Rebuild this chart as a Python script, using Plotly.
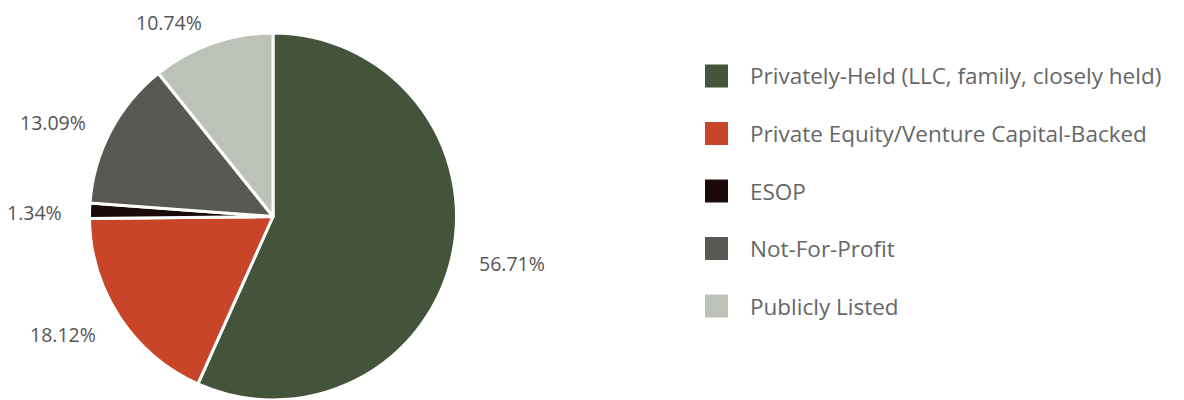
import math
import plotly.graph_objects as go

# Ownership structure breakdown
categories = [
    "Privately-Held (LLC, family, closely held)",
    "Private Equity/Venture Capital-Backed",
    "ESOP",
    "Not-For-Profit",
    "Publicly Listed",
]
shares = [56.71, 18.12, 1.34, 13.09, 10.74]
colors = ["#44543A", "#C9452A", "#1A0A0A", "#5A5853", "#BCC2B8"]

W, H = 1184, 400
FONT = "'Open Sans', Lato, sans-serif"

# pie placement (pixels)
cx, cy, r = 273, 216.5, 183.5
label_r = 209
label_cy = cy + 3

fig = go.Figure()
fig.add_trace(go.Pie(
    labels=categories,
    values=shares,
    marker=dict(colors=colors, line=dict(color="white", width=3)),
    sort=False,
    direction="clockwise",
    rotation=0,
    textinfo="none",
    hoverinfo="label+percent",
    showlegend=False,
    domain=dict(x=[(cx - r) / W, (cx + r) / W], y=[(H - cy - r) / H, (H - cy + r) / H]),
))

annotations = []
shapes = []

# percentage labels outside each slice, anchored toward the pie at the mid-angle
total = sum(shares)
acc = 0.0
for v in shares:
    mid = (acc + v / 2) / total * 2 * math.pi
    acc += v
    s, c = math.sin(mid), math.cos(mid)
    px = cx + label_r * s
    py = label_cy - label_r * c
    annotations.append(dict(
        x=px / W, y=1 - py / H, xref="paper", yref="paper",
        text=f"{v:.2f}%", showarrow=False,
        xanchor="left" if s > 0 else "right", yanchor="middle",
        font=dict(family=FONT, size=19.5, color="#555555"),
    ))

# legend: large square swatches with labels
leg_x0, leg_y0, leg_step, sw = 705, 76, 57.5, 23
for i, (name, col) in enumerate(zip(categories, colors)):
    yc = leg_y0 + i * leg_step
    shapes.append(dict(
        type="rect", xref="paper", yref="paper",
        x0=leg_x0 / W, x1=(leg_x0 + sw) / W,
        y0=1 - (yc + sw / 2) / H, y1=1 - (yc - sw / 2) / H,
        fillcolor=col, line=dict(width=0),
    ))
    annotations.append(dict(
        x=748 / W, y=1 - yc / H, xref="paper", yref="paper",
        text=name, showarrow=False, xanchor="left", yanchor="middle",
        font=dict(family=FONT, size=22.5, color="#666666"),
    ))

fig.update_layout(
    width=W, height=H,
    margin=dict(l=0, r=0, t=0, b=0),
    paper_bgcolor="white",
    plot_bgcolor="white",
    annotations=annotations,
    shapes=shapes,
)

fig.write_html("out.html")
